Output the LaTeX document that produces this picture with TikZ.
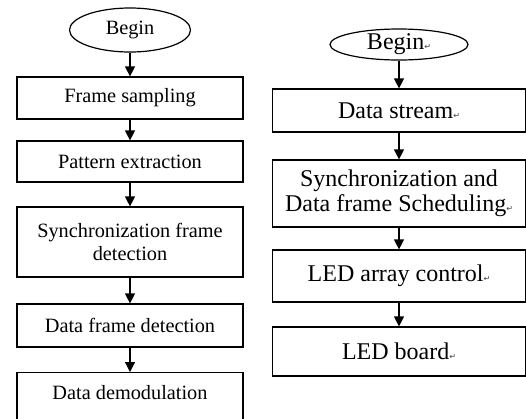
\documentclass[tikz,border=0pt]{standalone}
\usepackage{fontspec}
\setmainfont{Liberation Serif}
\newfontfamily\markfont{DejaVu Sans}
\usetikzlibrary{shapes.geometric,arrows.meta}

\newcommand{\parmark}{{\markfont\fontsize{8}{8}\selectfont\textcolor{darkgray}{↵}}}

\tikzset{
  boxL/.style={draw, line width=1.2pt, minimum width=226pt, inner sep=0pt,
    align=center, font=\fontsize{20.3}{23}\selectfont},
  boxR/.style={draw, line width=1.2pt, minimum width=253pt, inner sep=0pt,
    align=center, font=\fontsize{24}{25}\selectfont},
  startL/.style={ellipse, draw, line width=1.2pt, minimum width=121pt,
    minimum height=44pt, inner sep=0pt, font=\fontsize{20.3}{23}\selectfont},
  startR/.style={ellipse, draw, line width=1.2pt, minimum width=138pt,
    minimum height=31pt, inner sep=0pt, font=\fontsize{24}{25}\selectfont},
  flow/.style={-{Triangle[width=10pt,length=10pt]}, line width=1.2pt}
}

\begin{document}
\begin{tikzpicture}[x=1pt, y=-1pt]
	\path[use as bounding box, clip] (0,0) rectangle (526,418);
	% receiver side
	\node[startL] (beginL) at (130,30) {Begin};
	\node[boxL, minimum height=42pt] (sampling) at (130,98) {Frame sampling};
	\node[boxL, minimum height=41pt] (pattern) at (130,161.5) {Pattern extraction};
	\node[boxL, minimum height=70pt] (syncL) at (130,242) {Synchronization frame\\detection};
	\node[boxL, minimum height=43pt] (dataframe) at (130,325.5) {Data frame detection};
	\node[boxL, anchor=north, text height=14pt, text depth=34pt, inner ysep=13pt] (demod) at (130,372) {Data demodulation};
	\draw[flow] (beginL) -- (sampling);
	\draw[flow] (sampling) -- (pattern);
	\draw[flow] (pattern) -- (syncL);
	\draw[flow] (syncL) -- (dataframe);
	\draw[flow] (dataframe) -- (demod);
	% transmitter side
	\node[startR] (beginR) at (399,44.5) {Begin\parmark};
	\node[boxR, minimum height=43pt] (stream) at (399,110.5) {Data stream\parmark};
	\node[boxR, minimum height=67pt] (syncR) at (399,193.5) {Synchronization and\\Data frame Scheduling\parmark};
	\node[boxR, minimum height=52pt] (ledctl) at (399,276) {LED array control\parmark};
	\node[boxR, minimum height=49pt] (board) at (399,351.5) {LED board\parmark};
	\draw[flow] (beginR) -- (stream);
	\draw[flow] (stream) -- (syncR);
	\draw[flow] (syncR) -- (ledctl);
	\draw[flow] (ledctl) -- (board);
\end{tikzpicture}
\end{document}
